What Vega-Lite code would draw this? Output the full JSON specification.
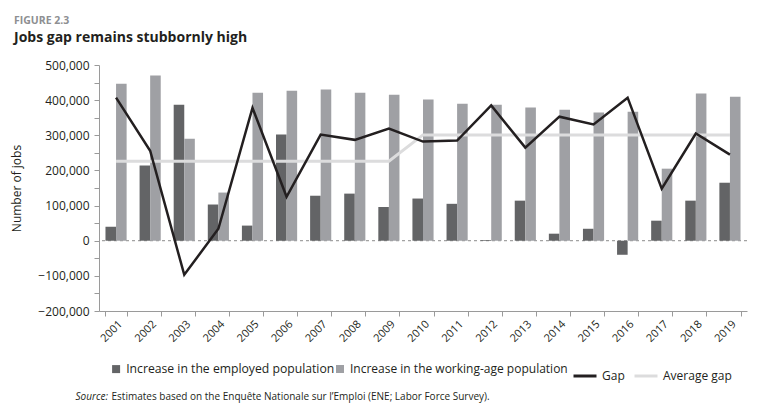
{
  "$schema": "https://vega.github.io/schema/vega-lite/v6.json",
  "width": 648,
  "height": 246,
  "autosize": {"type": "none"},
  "padding": {"left": 99, "top": 65, "right": 23, "bottom": 107},
  "background": "white",
  "title": {
    "text": "FIGURE 2.3",
    "subtitle": "Jobs gap remains stubbornly high",
    "anchor": "start",
    "frame": "group",
    "dx": -85,
    "offset": 14,
    "font": "Open Sans",
    "fontSize": 10.5,
    "fontWeight": "bold",
    "color": "#8e8f92",
    "subtitleFont": "Open Sans",
    "subtitleFontSize": 14,
    "subtitleFontWeight": "bold",
    "subtitleColor": "#231f20",
    "subtitlePadding": 5
  },
  "data": {
    "values": [
      {"year": "2001", "employed": 40000, "working_age": 447000, "gap": 407000, "avg": 226000},
      {"year": "2002", "employed": 214000, "working_age": 470000, "gap": 256000, "avg": 226000},
      {"year": "2003", "employed": 387000, "working_age": 290000, "gap": -97000, "avg": 226000},
      {"year": "2004", "employed": 103000, "working_age": 137000, "gap": 34000, "avg": 226000},
      {"year": "2005", "employed": 43000, "working_age": 421000, "gap": 378000, "avg": 226000},
      {"year": "2006", "employed": 302000, "working_age": 427000, "gap": 125000, "avg": 226000},
      {"year": "2007", "employed": 128000, "working_age": 430000, "gap": 302000, "avg": 226000},
      {"year": "2008", "employed": 134000, "working_age": 421000, "gap": 287000, "avg": 226000},
      {"year": "2009", "employed": 96000, "working_age": 415000, "gap": 319000, "avg": 226000},
      {"year": "2010", "employed": 120000, "working_age": 402000, "gap": 282000, "avg": 301000},
      {"year": "2011", "employed": 105000, "working_age": 390000, "gap": 285000, "avg": 301000},
      {"year": "2012", "employed": 2000, "working_age": 387000, "gap": 385000, "avg": 301000},
      {"year": "2013", "employed": 114000, "working_age": 379000, "gap": 265000, "avg": 301000},
      {"year": "2014", "employed": 20000, "working_age": 373000, "gap": 353000, "avg": 301000},
      {"year": "2015", "employed": 34000, "working_age": 365000, "gap": 331000, "avg": 301000},
      {"year": "2016", "employed": -40000, "working_age": 367000, "gap": 407000, "avg": 301000},
      {"year": "2017", "employed": 57000, "working_age": 205000, "gap": 148000, "avg": 301000},
      {"year": "2018", "employed": 114000, "working_age": 419000, "gap": 305000, "avg": 301000},
      {"year": "2019", "employed": 165000, "working_age": 410000, "gap": 245000, "avg": 301000}
    ]
  },
  "layer": [
    {
      "data": {"values": [{"level": 0}]},
      "mark": {"type": "rule", "color": "#8c8c8c", "strokeWidth": 1, "strokeDash": [3, 3]},
      "encoding": {
        "y": {
          "field": "level",
          "type": "quantitative",
          "axis": {
            "orient": "left",
            "values": [-150000, -50000, 50000, 150000, 250000, 350000, 450000],
            "labels": false,
            "domain": false,
            "grid": false,
            "tickSize": 5,
            "tickColor": "#9a9a9a",
            "title": null
          }
        }
      }
    },
    {
      "mark": {"type": "bar"},
      "encoding": {
        "x": {
          "field": "year",
          "type": "ordinal",
          "scale": {"paddingInner": 0.38, "paddingOuter": 0.19},
          "axis": {
            "orient": "bottom",
            "labelAngle": -45,
            "labelFont": "Open Sans",
            "labelFontSize": 11,
            "labelColor": "#231f20",
            "labelPadding": 2,
            "tickBand": "extent",
            "tickSize": 5,
            "tickColor": "#9a9a9a",
            "domainColor": "#9a9a9a",
            "title": "Source:",
            "titleFont": "Open Sans",
            "titleFontSize": 10,
            "titleFontStyle": "italic",
            "titleFontWeight": "normal",
            "titleColor": "#231f20",
            "titleAlign": "left",
            "titleBaseline": "alphabetic",
            "titleX": -24,
            "titleY": 88
          }
        },
        "xOffset": {
          "datum": "employed",
          "scale": {"domain": ["employed", "working_age"], "paddingInner": 0, "paddingOuter": 0}
        },
        "y": {
          "field": "employed",
          "type": "quantitative",
          "scale": {"domain": [-200000, 500000], "nice": false, "zero": false},
          "axis": {
            "orient": "left",
            "values": [-200000, -100000, 0, 100000, 200000, 300000, 400000, 500000],
            "labelExpr": "format(datum.value, ',')",
            "grid": false,
            "tickSize": 5,
            "tickColor": "#9a9a9a",
            "domainColor": "#9a9a9a",
            "labelFont": "Open Sans",
            "labelFontSize": 12,
            "labelColor": "#231f20",
            "labelPadding": 5,
            "title": "Number of jobs",
            "titleFont": "Open Sans",
            "titleFontSize": 12,
            "titleFontWeight": "normal",
            "titleColor": "#231f20",
            "titleX": -76,
            "titleY": 123
          }
        },
        "color": {
          "datum": "Increase in the employed population",
          "scale": {"range": ["#636466"]},
          "legend": {
            "orient": "none",
            "legendX": 11,
            "legendY": 298,
            "title": null,
            "symbolType": "square",
            "symbolSize": 64,
            "symbolStrokeWidth": 0,
            "labelFont": "Open Sans",
            "labelFontSize": 12.2,
            "labelColor": "#231f20",
            "labelLimit": 400,
            "labelOffset": 4
          }
        }
      }
    },
    {
      "mark": {"type": "bar"},
      "encoding": {
        "x": {"field": "year", "type": "ordinal", "axis": null},
        "xOffset": {"datum": "working_age"},
        "y": {"field": "working_age", "type": "quantitative", "axis": null},
        "fill": {
          "datum": "Increase in the working-age population",
          "scale": {"range": ["#9fa0a4"]},
          "legend": {
            "orient": "none",
            "legendX": 235,
            "legendY": 298,
            "title": null,
            "symbolType": "square",
            "symbolSize": 64,
            "symbolStrokeWidth": 0,
            "labelFont": "Open Sans",
            "labelFontSize": 12,
            "labelColor": "#231f20",
            "labelLimit": 400,
            "labelOffset": 4
          }
        }
      }
    },
    {
      "mark": {"type": "line", "strokeWidth": 3},
      "encoding": {
        "x": {
          "field": "year",
          "type": "ordinal",
          "axis": {
            "orient": "bottom",
            "labels": false,
            "ticks": false,
            "domain": false,
            "title": "Estimates based on the Enquête Nationale sur l’Emploi (ENE; Labor Force Survey).",
            "titleFont": "Open Sans",
            "titleFontSize": 10,
            "titleFontWeight": "normal",
            "titleColor": "#231f20",
            "titleAlign": "left",
            "titleBaseline": "alphabetic",
            "titleX": 12,
            "titleY": 88
          }
        },
        "y": {"field": "avg", "type": "quantitative", "axis": null},
        "stroke": {"datum": "Average gap"}
      }
    },
    {
      "mark": {"type": "line", "strokeWidth": 2.5},
      "encoding": {
        "x": {"field": "year", "type": "ordinal", "axis": null},
        "y": {"field": "gap", "type": "quantitative", "axis": null},
        "stroke": {
          "datum": "Gap",
          "scale": {"domain": ["Gap", "Average gap"], "range": ["#231f20", "#dcdcdd"]},
          "legend": {
            "orient": "none",
            "legendX": 473,
            "legendY": 298,
            "direction": "horizontal",
            "title": null,
            "symbolType": "stroke",
            "symbolSize": 529,
            "symbolStrokeWidth": 3,
            "labelFont": "Open Sans",
            "labelFontSize": 12,
            "labelColor": "#231f20",
            "labelLimit": 200,
            "labelOffset": 4,
            "columnPadding": 3
          }
        }
      }
    }
  ],
  "resolve": {"axis": {"x": "independent", "y": "independent"}},
  "config": {
    "view": {"stroke": null},
    "font": "Open Sans"
  }
}
